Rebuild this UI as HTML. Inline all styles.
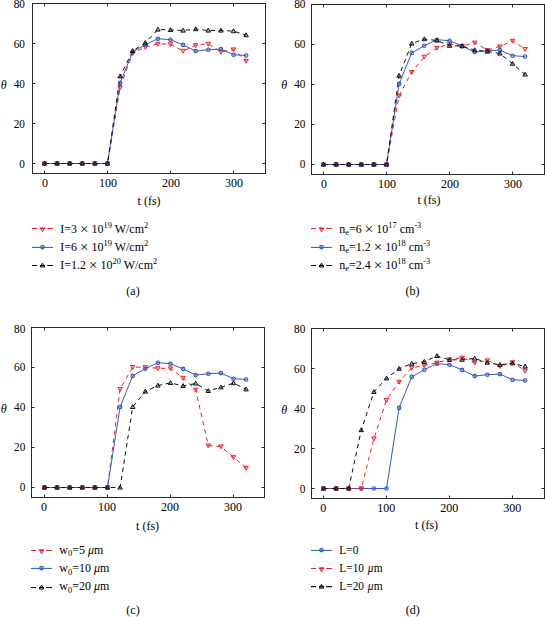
<!DOCTYPE html>
<html><head><meta charset="utf-8"><title>Figure</title>
<style>
html,body{margin:0;padding:0;background:#fff;}
svg{display:block;font-family:"Liberation Serif",serif;font-size:12px;fill:#000;}
</style></head>
<body>
<svg width="545" height="617" viewBox="0 0 545 617">
<rect width="545" height="617" fill="#fff"/>
<g>
<polyline points="44.50,163.50 57.10,163.50 69.70,163.50 82.30,163.50 94.90,163.50 107.50,163.50 120.10,87.50 132.70,53.10 145.30,47.10 157.90,43.90 170.50,44.30 183.10,50.90 195.70,45.30 208.30,43.90 220.90,51.90 233.50,49.50 246.10,60.90" fill="none" stroke="#ed1c24" stroke-width="1" stroke-dasharray="4.4 3.9"/>
<polyline points="44.50,163.50 57.10,163.50 69.70,163.50 82.30,163.50 94.90,163.50 107.50,163.50 120.10,82.90 132.70,51.90 145.30,44.70 157.90,38.70 170.50,39.70 183.10,44.90 195.70,51.10 208.30,49.70 220.90,49.10 233.50,54.70 246.10,55.50" fill="none" stroke="#355bbf" stroke-width="1"/>
<polyline points="44.50,163.50 57.10,163.50 69.70,163.50 82.30,163.50 94.90,163.50 107.50,163.50 120.10,76.30 132.70,50.90 145.30,42.70 157.90,29.50 170.50,29.90 183.10,30.50 195.70,29.10 208.30,30.50 220.90,30.50 233.50,31.10 246.10,35.10" fill="none" stroke="#0c0c0c" stroke-width="1" stroke-dasharray="4.4 3.9"/>
<path d="M42.25 161.90L46.75 161.90L44.50 165.80Z" fill="#ed1c24" fill-opacity="0.3" stroke="#ed1c24" stroke-width="0.95" stroke-linejoin="round"/>
<path d="M54.85 161.90L59.35 161.90L57.10 165.80Z" fill="#ed1c24" fill-opacity="0.3" stroke="#ed1c24" stroke-width="0.95" stroke-linejoin="round"/>
<path d="M67.45 161.90L71.95 161.90L69.70 165.80Z" fill="#ed1c24" fill-opacity="0.3" stroke="#ed1c24" stroke-width="0.95" stroke-linejoin="round"/>
<path d="M80.05 161.90L84.55 161.90L82.30 165.80Z" fill="#ed1c24" fill-opacity="0.3" stroke="#ed1c24" stroke-width="0.95" stroke-linejoin="round"/>
<path d="M92.65 161.90L97.15 161.90L94.90 165.80Z" fill="#ed1c24" fill-opacity="0.3" stroke="#ed1c24" stroke-width="0.95" stroke-linejoin="round"/>
<path d="M105.25 161.90L109.75 161.90L107.50 165.80Z" fill="#ed1c24" fill-opacity="0.3" stroke="#ed1c24" stroke-width="0.95" stroke-linejoin="round"/>
<path d="M117.85 85.90L122.35 85.90L120.10 89.80Z" fill="#ed1c24" fill-opacity="0.3" stroke="#ed1c24" stroke-width="0.95" stroke-linejoin="round"/>
<path d="M130.45 51.50L134.95 51.50L132.70 55.40Z" fill="#ed1c24" fill-opacity="0.3" stroke="#ed1c24" stroke-width="0.95" stroke-linejoin="round"/>
<path d="M143.05 45.50L147.55 45.50L145.30 49.40Z" fill="#ed1c24" fill-opacity="0.3" stroke="#ed1c24" stroke-width="0.95" stroke-linejoin="round"/>
<path d="M155.65 42.30L160.15 42.30L157.90 46.20Z" fill="#ed1c24" fill-opacity="0.3" stroke="#ed1c24" stroke-width="0.95" stroke-linejoin="round"/>
<path d="M168.25 42.70L172.75 42.70L170.50 46.60Z" fill="#ed1c24" fill-opacity="0.3" stroke="#ed1c24" stroke-width="0.95" stroke-linejoin="round"/>
<path d="M180.85 49.30L185.35 49.30L183.10 53.20Z" fill="#ed1c24" fill-opacity="0.3" stroke="#ed1c24" stroke-width="0.95" stroke-linejoin="round"/>
<path d="M193.45 43.70L197.95 43.70L195.70 47.60Z" fill="#ed1c24" fill-opacity="0.3" stroke="#ed1c24" stroke-width="0.95" stroke-linejoin="round"/>
<path d="M206.05 42.30L210.55 42.30L208.30 46.20Z" fill="#ed1c24" fill-opacity="0.3" stroke="#ed1c24" stroke-width="0.95" stroke-linejoin="round"/>
<path d="M218.65 50.30L223.15 50.30L220.90 54.20Z" fill="#ed1c24" fill-opacity="0.3" stroke="#ed1c24" stroke-width="0.95" stroke-linejoin="round"/>
<path d="M231.25 47.90L235.75 47.90L233.50 51.80Z" fill="#ed1c24" fill-opacity="0.3" stroke="#ed1c24" stroke-width="0.95" stroke-linejoin="round"/>
<path d="M243.85 59.30L248.35 59.30L246.10 63.20Z" fill="#ed1c24" fill-opacity="0.3" stroke="#ed1c24" stroke-width="0.95" stroke-linejoin="round"/>
<circle cx="44.50" cy="163.50" r="1.75" fill="#355bbf" fill-opacity="0.25" stroke="#355bbf" stroke-width="1.1"/>
<circle cx="57.10" cy="163.50" r="1.75" fill="#355bbf" fill-opacity="0.25" stroke="#355bbf" stroke-width="1.1"/>
<circle cx="69.70" cy="163.50" r="1.75" fill="#355bbf" fill-opacity="0.25" stroke="#355bbf" stroke-width="1.1"/>
<circle cx="82.30" cy="163.50" r="1.75" fill="#355bbf" fill-opacity="0.25" stroke="#355bbf" stroke-width="1.1"/>
<circle cx="94.90" cy="163.50" r="1.75" fill="#355bbf" fill-opacity="0.25" stroke="#355bbf" stroke-width="1.1"/>
<circle cx="107.50" cy="163.50" r="1.75" fill="#355bbf" fill-opacity="0.25" stroke="#355bbf" stroke-width="1.1"/>
<circle cx="120.10" cy="82.90" r="1.75" fill="#355bbf" fill-opacity="0.25" stroke="#355bbf" stroke-width="1.1"/>
<circle cx="132.70" cy="51.90" r="1.75" fill="#355bbf" fill-opacity="0.25" stroke="#355bbf" stroke-width="1.1"/>
<circle cx="145.30" cy="44.70" r="1.75" fill="#355bbf" fill-opacity="0.25" stroke="#355bbf" stroke-width="1.1"/>
<circle cx="157.90" cy="38.70" r="1.75" fill="#355bbf" fill-opacity="0.25" stroke="#355bbf" stroke-width="1.1"/>
<circle cx="170.50" cy="39.70" r="1.75" fill="#355bbf" fill-opacity="0.25" stroke="#355bbf" stroke-width="1.1"/>
<circle cx="183.10" cy="44.90" r="1.75" fill="#355bbf" fill-opacity="0.25" stroke="#355bbf" stroke-width="1.1"/>
<circle cx="195.70" cy="51.10" r="1.75" fill="#355bbf" fill-opacity="0.25" stroke="#355bbf" stroke-width="1.1"/>
<circle cx="208.30" cy="49.70" r="1.75" fill="#355bbf" fill-opacity="0.25" stroke="#355bbf" stroke-width="1.1"/>
<circle cx="220.90" cy="49.10" r="1.75" fill="#355bbf" fill-opacity="0.25" stroke="#355bbf" stroke-width="1.1"/>
<circle cx="233.50" cy="54.70" r="1.75" fill="#355bbf" fill-opacity="0.25" stroke="#355bbf" stroke-width="1.1"/>
<circle cx="246.10" cy="55.50" r="1.75" fill="#355bbf" fill-opacity="0.25" stroke="#355bbf" stroke-width="1.1"/>
<path d="M42.25 165.10L46.75 165.10L44.50 161.20Z" fill="#0c0c0c" fill-opacity="0.3" stroke="#0c0c0c" stroke-width="0.95" stroke-linejoin="round"/>
<path d="M54.85 165.10L59.35 165.10L57.10 161.20Z" fill="#0c0c0c" fill-opacity="0.3" stroke="#0c0c0c" stroke-width="0.95" stroke-linejoin="round"/>
<path d="M67.45 165.10L71.95 165.10L69.70 161.20Z" fill="#0c0c0c" fill-opacity="0.3" stroke="#0c0c0c" stroke-width="0.95" stroke-linejoin="round"/>
<path d="M80.05 165.10L84.55 165.10L82.30 161.20Z" fill="#0c0c0c" fill-opacity="0.3" stroke="#0c0c0c" stroke-width="0.95" stroke-linejoin="round"/>
<path d="M92.65 165.10L97.15 165.10L94.90 161.20Z" fill="#0c0c0c" fill-opacity="0.3" stroke="#0c0c0c" stroke-width="0.95" stroke-linejoin="round"/>
<path d="M105.25 165.10L109.75 165.10L107.50 161.20Z" fill="#0c0c0c" fill-opacity="0.3" stroke="#0c0c0c" stroke-width="0.95" stroke-linejoin="round"/>
<path d="M117.85 77.90L122.35 77.90L120.10 74.00Z" fill="#0c0c0c" fill-opacity="0.3" stroke="#0c0c0c" stroke-width="0.95" stroke-linejoin="round"/>
<path d="M130.45 52.50L134.95 52.50L132.70 48.60Z" fill="#0c0c0c" fill-opacity="0.3" stroke="#0c0c0c" stroke-width="0.95" stroke-linejoin="round"/>
<path d="M143.05 44.30L147.55 44.30L145.30 40.40Z" fill="#0c0c0c" fill-opacity="0.3" stroke="#0c0c0c" stroke-width="0.95" stroke-linejoin="round"/>
<path d="M155.65 31.10L160.15 31.10L157.90 27.20Z" fill="#0c0c0c" fill-opacity="0.3" stroke="#0c0c0c" stroke-width="0.95" stroke-linejoin="round"/>
<path d="M168.25 31.50L172.75 31.50L170.50 27.60Z" fill="#0c0c0c" fill-opacity="0.3" stroke="#0c0c0c" stroke-width="0.95" stroke-linejoin="round"/>
<path d="M180.85 32.10L185.35 32.10L183.10 28.20Z" fill="#0c0c0c" fill-opacity="0.3" stroke="#0c0c0c" stroke-width="0.95" stroke-linejoin="round"/>
<path d="M193.45 30.70L197.95 30.70L195.70 26.80Z" fill="#0c0c0c" fill-opacity="0.3" stroke="#0c0c0c" stroke-width="0.95" stroke-linejoin="round"/>
<path d="M206.05 32.10L210.55 32.10L208.30 28.20Z" fill="#0c0c0c" fill-opacity="0.3" stroke="#0c0c0c" stroke-width="0.95" stroke-linejoin="round"/>
<path d="M218.65 32.10L223.15 32.10L220.90 28.20Z" fill="#0c0c0c" fill-opacity="0.3" stroke="#0c0c0c" stroke-width="0.95" stroke-linejoin="round"/>
<path d="M231.25 32.70L235.75 32.70L233.50 28.80Z" fill="#0c0c0c" fill-opacity="0.3" stroke="#0c0c0c" stroke-width="0.95" stroke-linejoin="round"/>
<path d="M243.85 36.70L248.35 36.70L246.10 32.80Z" fill="#0c0c0c" fill-opacity="0.3" stroke="#0c0c0c" stroke-width="0.95" stroke-linejoin="round"/>
<rect x="32.5" y="3.5" width="233" height="170" fill="none" stroke="#282828" stroke-width="1"/>
<path d="M44.5 173.5v-3.0M44.5 3.5v3.0M107.5 173.5v-3.0M107.5 3.5v3.0M170.5 173.5v-3.0M170.5 3.5v3.0M233.5 173.5v-3.0M233.5 3.5v3.0M32.5 163.5h3.0M265.5 163.5h-3.0M32.5 123.5h3.0M265.5 123.5h-3.0M32.5 83.5h3.0M265.5 83.5h-3.0M32.5 43.5h3.0M265.5 43.5h-3.0" fill="none" stroke="#282828" stroke-width="1"/>
<text x="45.1" y="187.0" text-anchor="middle">0</text>
<text x="108.1" y="187.0" text-anchor="middle">100</text>
<text x="171.1" y="187.0" text-anchor="middle">200</text>
<text x="234.1" y="187.0" text-anchor="middle">300</text>
<text transform="translate(24.9 167.7) scale(0.94 1)" text-anchor="end">0</text>
<text transform="translate(24.9 127.7) scale(0.94 1)" text-anchor="end">20</text>
<text transform="translate(24.9 87.7) scale(0.94 1)" text-anchor="end">40</text>
<text transform="translate(24.9 47.7) scale(0.94 1)" text-anchor="end">60</text>
<text transform="translate(24.9 7.7) scale(0.94 1)" text-anchor="end">80</text>
<text x="0.8" y="88.9" font-style="italic">θ</text>
<text x="149.1" y="205.3" text-anchor="middle">t (fs)</text>
</g>
<g>
<polyline points="323.50,164.50 336.10,164.50 348.70,164.50 361.30,164.50 373.90,164.50 386.50,164.50 399.10,95.70 411.70,72.10 424.30,56.70 436.90,47.90 449.50,44.30 462.10,46.10 474.70,42.70 487.30,50.10 499.90,46.50 512.50,40.90 525.10,49.10" fill="none" stroke="#ed1c24" stroke-width="1" stroke-dasharray="4.4 3.9"/>
<polyline points="323.50,164.50 336.10,164.50 348.70,164.50 361.30,164.50 373.90,164.50 386.50,164.50 399.10,83.90 411.70,52.90 424.30,45.70 436.90,39.70 449.50,40.70 462.10,45.90 474.70,52.10 487.30,50.70 499.90,50.10 512.50,55.70 525.10,56.50" fill="none" stroke="#355bbf" stroke-width="1"/>
<polyline points="323.50,164.50 336.10,164.50 348.70,164.50 361.30,164.50 373.90,164.50 386.50,164.50 399.10,75.70 411.70,43.50 424.30,39.10 436.90,40.50 449.50,45.70 462.10,46.10 474.70,50.10 487.30,51.50 499.90,53.50 512.50,63.70 525.10,74.50" fill="none" stroke="#0c0c0c" stroke-width="1" stroke-dasharray="4.4 3.9"/>
<path d="M321.25 162.90L325.75 162.90L323.50 166.80Z" fill="#ed1c24" fill-opacity="0.3" stroke="#ed1c24" stroke-width="0.95" stroke-linejoin="round"/>
<path d="M333.85 162.90L338.35 162.90L336.10 166.80Z" fill="#ed1c24" fill-opacity="0.3" stroke="#ed1c24" stroke-width="0.95" stroke-linejoin="round"/>
<path d="M346.45 162.90L350.95 162.90L348.70 166.80Z" fill="#ed1c24" fill-opacity="0.3" stroke="#ed1c24" stroke-width="0.95" stroke-linejoin="round"/>
<path d="M359.05 162.90L363.55 162.90L361.30 166.80Z" fill="#ed1c24" fill-opacity="0.3" stroke="#ed1c24" stroke-width="0.95" stroke-linejoin="round"/>
<path d="M371.65 162.90L376.15 162.90L373.90 166.80Z" fill="#ed1c24" fill-opacity="0.3" stroke="#ed1c24" stroke-width="0.95" stroke-linejoin="round"/>
<path d="M384.25 162.90L388.75 162.90L386.50 166.80Z" fill="#ed1c24" fill-opacity="0.3" stroke="#ed1c24" stroke-width="0.95" stroke-linejoin="round"/>
<path d="M396.85 94.10L401.35 94.10L399.10 98.00Z" fill="#ed1c24" fill-opacity="0.3" stroke="#ed1c24" stroke-width="0.95" stroke-linejoin="round"/>
<path d="M409.45 70.50L413.95 70.50L411.70 74.40Z" fill="#ed1c24" fill-opacity="0.3" stroke="#ed1c24" stroke-width="0.95" stroke-linejoin="round"/>
<path d="M422.05 55.10L426.55 55.10L424.30 59.00Z" fill="#ed1c24" fill-opacity="0.3" stroke="#ed1c24" stroke-width="0.95" stroke-linejoin="round"/>
<path d="M434.65 46.30L439.15 46.30L436.90 50.20Z" fill="#ed1c24" fill-opacity="0.3" stroke="#ed1c24" stroke-width="0.95" stroke-linejoin="round"/>
<path d="M447.25 42.70L451.75 42.70L449.50 46.60Z" fill="#ed1c24" fill-opacity="0.3" stroke="#ed1c24" stroke-width="0.95" stroke-linejoin="round"/>
<path d="M459.85 44.50L464.35 44.50L462.10 48.40Z" fill="#ed1c24" fill-opacity="0.3" stroke="#ed1c24" stroke-width="0.95" stroke-linejoin="round"/>
<path d="M472.45 41.10L476.95 41.10L474.70 45.00Z" fill="#ed1c24" fill-opacity="0.3" stroke="#ed1c24" stroke-width="0.95" stroke-linejoin="round"/>
<path d="M485.05 48.50L489.55 48.50L487.30 52.40Z" fill="#ed1c24" fill-opacity="0.3" stroke="#ed1c24" stroke-width="0.95" stroke-linejoin="round"/>
<path d="M497.65 44.90L502.15 44.90L499.90 48.80Z" fill="#ed1c24" fill-opacity="0.3" stroke="#ed1c24" stroke-width="0.95" stroke-linejoin="round"/>
<path d="M510.25 39.30L514.75 39.30L512.50 43.20Z" fill="#ed1c24" fill-opacity="0.3" stroke="#ed1c24" stroke-width="0.95" stroke-linejoin="round"/>
<path d="M522.85 47.50L527.35 47.50L525.10 51.40Z" fill="#ed1c24" fill-opacity="0.3" stroke="#ed1c24" stroke-width="0.95" stroke-linejoin="round"/>
<circle cx="323.50" cy="164.50" r="1.75" fill="#355bbf" fill-opacity="0.25" stroke="#355bbf" stroke-width="1.1"/>
<circle cx="336.10" cy="164.50" r="1.75" fill="#355bbf" fill-opacity="0.25" stroke="#355bbf" stroke-width="1.1"/>
<circle cx="348.70" cy="164.50" r="1.75" fill="#355bbf" fill-opacity="0.25" stroke="#355bbf" stroke-width="1.1"/>
<circle cx="361.30" cy="164.50" r="1.75" fill="#355bbf" fill-opacity="0.25" stroke="#355bbf" stroke-width="1.1"/>
<circle cx="373.90" cy="164.50" r="1.75" fill="#355bbf" fill-opacity="0.25" stroke="#355bbf" stroke-width="1.1"/>
<circle cx="386.50" cy="164.50" r="1.75" fill="#355bbf" fill-opacity="0.25" stroke="#355bbf" stroke-width="1.1"/>
<circle cx="399.10" cy="83.90" r="1.75" fill="#355bbf" fill-opacity="0.25" stroke="#355bbf" stroke-width="1.1"/>
<circle cx="411.70" cy="52.90" r="1.75" fill="#355bbf" fill-opacity="0.25" stroke="#355bbf" stroke-width="1.1"/>
<circle cx="424.30" cy="45.70" r="1.75" fill="#355bbf" fill-opacity="0.25" stroke="#355bbf" stroke-width="1.1"/>
<circle cx="436.90" cy="39.70" r="1.75" fill="#355bbf" fill-opacity="0.25" stroke="#355bbf" stroke-width="1.1"/>
<circle cx="449.50" cy="40.70" r="1.75" fill="#355bbf" fill-opacity="0.25" stroke="#355bbf" stroke-width="1.1"/>
<circle cx="462.10" cy="45.90" r="1.75" fill="#355bbf" fill-opacity="0.25" stroke="#355bbf" stroke-width="1.1"/>
<circle cx="474.70" cy="52.10" r="1.75" fill="#355bbf" fill-opacity="0.25" stroke="#355bbf" stroke-width="1.1"/>
<circle cx="487.30" cy="50.70" r="1.75" fill="#355bbf" fill-opacity="0.25" stroke="#355bbf" stroke-width="1.1"/>
<circle cx="499.90" cy="50.10" r="1.75" fill="#355bbf" fill-opacity="0.25" stroke="#355bbf" stroke-width="1.1"/>
<circle cx="512.50" cy="55.70" r="1.75" fill="#355bbf" fill-opacity="0.25" stroke="#355bbf" stroke-width="1.1"/>
<circle cx="525.10" cy="56.50" r="1.75" fill="#355bbf" fill-opacity="0.25" stroke="#355bbf" stroke-width="1.1"/>
<path d="M321.25 166.10L325.75 166.10L323.50 162.20Z" fill="#0c0c0c" fill-opacity="0.3" stroke="#0c0c0c" stroke-width="0.95" stroke-linejoin="round"/>
<path d="M333.85 166.10L338.35 166.10L336.10 162.20Z" fill="#0c0c0c" fill-opacity="0.3" stroke="#0c0c0c" stroke-width="0.95" stroke-linejoin="round"/>
<path d="M346.45 166.10L350.95 166.10L348.70 162.20Z" fill="#0c0c0c" fill-opacity="0.3" stroke="#0c0c0c" stroke-width="0.95" stroke-linejoin="round"/>
<path d="M359.05 166.10L363.55 166.10L361.30 162.20Z" fill="#0c0c0c" fill-opacity="0.3" stroke="#0c0c0c" stroke-width="0.95" stroke-linejoin="round"/>
<path d="M371.65 166.10L376.15 166.10L373.90 162.20Z" fill="#0c0c0c" fill-opacity="0.3" stroke="#0c0c0c" stroke-width="0.95" stroke-linejoin="round"/>
<path d="M384.25 166.10L388.75 166.10L386.50 162.20Z" fill="#0c0c0c" fill-opacity="0.3" stroke="#0c0c0c" stroke-width="0.95" stroke-linejoin="round"/>
<path d="M396.85 77.30L401.35 77.30L399.10 73.40Z" fill="#0c0c0c" fill-opacity="0.3" stroke="#0c0c0c" stroke-width="0.95" stroke-linejoin="round"/>
<path d="M409.45 45.10L413.95 45.10L411.70 41.20Z" fill="#0c0c0c" fill-opacity="0.3" stroke="#0c0c0c" stroke-width="0.95" stroke-linejoin="round"/>
<path d="M422.05 40.70L426.55 40.70L424.30 36.80Z" fill="#0c0c0c" fill-opacity="0.3" stroke="#0c0c0c" stroke-width="0.95" stroke-linejoin="round"/>
<path d="M434.65 42.10L439.15 42.10L436.90 38.20Z" fill="#0c0c0c" fill-opacity="0.3" stroke="#0c0c0c" stroke-width="0.95" stroke-linejoin="round"/>
<path d="M447.25 47.30L451.75 47.30L449.50 43.40Z" fill="#0c0c0c" fill-opacity="0.3" stroke="#0c0c0c" stroke-width="0.95" stroke-linejoin="round"/>
<path d="M459.85 47.70L464.35 47.70L462.10 43.80Z" fill="#0c0c0c" fill-opacity="0.3" stroke="#0c0c0c" stroke-width="0.95" stroke-linejoin="round"/>
<path d="M472.45 51.70L476.95 51.70L474.70 47.80Z" fill="#0c0c0c" fill-opacity="0.3" stroke="#0c0c0c" stroke-width="0.95" stroke-linejoin="round"/>
<path d="M485.05 53.10L489.55 53.10L487.30 49.20Z" fill="#0c0c0c" fill-opacity="0.3" stroke="#0c0c0c" stroke-width="0.95" stroke-linejoin="round"/>
<path d="M497.65 55.10L502.15 55.10L499.90 51.20Z" fill="#0c0c0c" fill-opacity="0.3" stroke="#0c0c0c" stroke-width="0.95" stroke-linejoin="round"/>
<path d="M510.25 65.30L514.75 65.30L512.50 61.40Z" fill="#0c0c0c" fill-opacity="0.3" stroke="#0c0c0c" stroke-width="0.95" stroke-linejoin="round"/>
<path d="M522.85 76.10L527.35 76.10L525.10 72.20Z" fill="#0c0c0c" fill-opacity="0.3" stroke="#0c0c0c" stroke-width="0.95" stroke-linejoin="round"/>
<rect x="311.5" y="4.5" width="233" height="170" fill="none" stroke="#282828" stroke-width="1"/>
<path d="M323.5 174.5v-3.0M323.5 4.5v3.0M386.5 174.5v-3.0M386.5 4.5v3.0M449.5 174.5v-3.0M449.5 4.5v3.0M512.5 174.5v-3.0M512.5 4.5v3.0M311.5 164.5h3.0M544.5 164.5h-3.0M311.5 124.5h3.0M544.5 124.5h-3.0M311.5 84.5h3.0M544.5 84.5h-3.0M311.5 44.5h3.0M544.5 44.5h-3.0" fill="none" stroke="#282828" stroke-width="1"/>
<text x="324.1" y="188.0" text-anchor="middle">0</text>
<text x="387.1" y="188.0" text-anchor="middle">100</text>
<text x="450.1" y="188.0" text-anchor="middle">200</text>
<text x="513.1" y="188.0" text-anchor="middle">300</text>
<text transform="translate(305.4 167.9) scale(0.94 1)" text-anchor="end">0</text>
<text transform="translate(305.4 127.9) scale(0.94 1)" text-anchor="end">20</text>
<text transform="translate(305.4 87.9) scale(0.94 1)" text-anchor="end">40</text>
<text transform="translate(305.4 47.9) scale(0.94 1)" text-anchor="end">60</text>
<text transform="translate(305.4 7.9) scale(0.94 1)" text-anchor="end">80</text>
<text x="281.2" y="89.1" font-style="italic">θ</text>
<text x="429.0" y="204.3" text-anchor="middle">t (fs)</text>
</g>
<g>
<polyline points="44.50,487.50 57.10,487.50 69.70,487.50 82.30,487.50 94.90,487.50 107.50,487.50 120.10,389.10 132.70,367.10 145.30,367.30 157.90,368.30 170.50,368.50 183.10,377.90 195.70,389.70 208.30,445.50 220.90,446.50 233.50,457.30 246.10,467.90" fill="none" stroke="#ed1c24" stroke-width="1" stroke-dasharray="4.4 3.9"/>
<polyline points="44.50,487.50 57.10,487.50 69.70,487.50 82.30,487.50 94.90,487.50 107.50,487.50 120.10,406.90 132.70,375.90 145.30,368.70 157.90,362.70 170.50,363.70 183.10,368.90 195.70,375.10 208.30,373.70 220.90,373.10 233.50,378.70 246.10,379.50" fill="none" stroke="#355bbf" stroke-width="1"/>
<polyline points="44.50,487.50 57.10,487.50 69.70,487.50 82.30,487.50 94.90,487.50 107.50,487.50 120.10,487.50 132.70,406.90 145.30,391.50 157.90,385.50 170.50,382.90 183.10,385.90 195.70,383.50 208.30,390.90 220.90,387.30 233.50,383.10 246.10,389.30" fill="none" stroke="#0c0c0c" stroke-width="1" stroke-dasharray="4.4 3.9"/>
<path d="M42.25 485.90L46.75 485.90L44.50 489.80Z" fill="#ed1c24" fill-opacity="0.3" stroke="#ed1c24" stroke-width="0.95" stroke-linejoin="round"/>
<path d="M54.85 485.90L59.35 485.90L57.10 489.80Z" fill="#ed1c24" fill-opacity="0.3" stroke="#ed1c24" stroke-width="0.95" stroke-linejoin="round"/>
<path d="M67.45 485.90L71.95 485.90L69.70 489.80Z" fill="#ed1c24" fill-opacity="0.3" stroke="#ed1c24" stroke-width="0.95" stroke-linejoin="round"/>
<path d="M80.05 485.90L84.55 485.90L82.30 489.80Z" fill="#ed1c24" fill-opacity="0.3" stroke="#ed1c24" stroke-width="0.95" stroke-linejoin="round"/>
<path d="M92.65 485.90L97.15 485.90L94.90 489.80Z" fill="#ed1c24" fill-opacity="0.3" stroke="#ed1c24" stroke-width="0.95" stroke-linejoin="round"/>
<path d="M105.25 485.90L109.75 485.90L107.50 489.80Z" fill="#ed1c24" fill-opacity="0.3" stroke="#ed1c24" stroke-width="0.95" stroke-linejoin="round"/>
<path d="M117.85 387.50L122.35 387.50L120.10 391.40Z" fill="#ed1c24" fill-opacity="0.3" stroke="#ed1c24" stroke-width="0.95" stroke-linejoin="round"/>
<path d="M130.45 365.50L134.95 365.50L132.70 369.40Z" fill="#ed1c24" fill-opacity="0.3" stroke="#ed1c24" stroke-width="0.95" stroke-linejoin="round"/>
<path d="M143.05 365.70L147.55 365.70L145.30 369.60Z" fill="#ed1c24" fill-opacity="0.3" stroke="#ed1c24" stroke-width="0.95" stroke-linejoin="round"/>
<path d="M155.65 366.70L160.15 366.70L157.90 370.60Z" fill="#ed1c24" fill-opacity="0.3" stroke="#ed1c24" stroke-width="0.95" stroke-linejoin="round"/>
<path d="M168.25 366.90L172.75 366.90L170.50 370.80Z" fill="#ed1c24" fill-opacity="0.3" stroke="#ed1c24" stroke-width="0.95" stroke-linejoin="round"/>
<path d="M180.85 376.30L185.35 376.30L183.10 380.20Z" fill="#ed1c24" fill-opacity="0.3" stroke="#ed1c24" stroke-width="0.95" stroke-linejoin="round"/>
<path d="M193.45 388.10L197.95 388.10L195.70 392.00Z" fill="#ed1c24" fill-opacity="0.3" stroke="#ed1c24" stroke-width="0.95" stroke-linejoin="round"/>
<path d="M206.05 443.90L210.55 443.90L208.30 447.80Z" fill="#ed1c24" fill-opacity="0.3" stroke="#ed1c24" stroke-width="0.95" stroke-linejoin="round"/>
<path d="M218.65 444.90L223.15 444.90L220.90 448.80Z" fill="#ed1c24" fill-opacity="0.3" stroke="#ed1c24" stroke-width="0.95" stroke-linejoin="round"/>
<path d="M231.25 455.70L235.75 455.70L233.50 459.60Z" fill="#ed1c24" fill-opacity="0.3" stroke="#ed1c24" stroke-width="0.95" stroke-linejoin="round"/>
<path d="M243.85 466.30L248.35 466.30L246.10 470.20Z" fill="#ed1c24" fill-opacity="0.3" stroke="#ed1c24" stroke-width="0.95" stroke-linejoin="round"/>
<circle cx="44.50" cy="487.50" r="1.75" fill="#355bbf" fill-opacity="0.25" stroke="#355bbf" stroke-width="1.1"/>
<circle cx="57.10" cy="487.50" r="1.75" fill="#355bbf" fill-opacity="0.25" stroke="#355bbf" stroke-width="1.1"/>
<circle cx="69.70" cy="487.50" r="1.75" fill="#355bbf" fill-opacity="0.25" stroke="#355bbf" stroke-width="1.1"/>
<circle cx="82.30" cy="487.50" r="1.75" fill="#355bbf" fill-opacity="0.25" stroke="#355bbf" stroke-width="1.1"/>
<circle cx="94.90" cy="487.50" r="1.75" fill="#355bbf" fill-opacity="0.25" stroke="#355bbf" stroke-width="1.1"/>
<circle cx="107.50" cy="487.50" r="1.75" fill="#355bbf" fill-opacity="0.25" stroke="#355bbf" stroke-width="1.1"/>
<circle cx="120.10" cy="406.90" r="1.75" fill="#355bbf" fill-opacity="0.25" stroke="#355bbf" stroke-width="1.1"/>
<circle cx="132.70" cy="375.90" r="1.75" fill="#355bbf" fill-opacity="0.25" stroke="#355bbf" stroke-width="1.1"/>
<circle cx="145.30" cy="368.70" r="1.75" fill="#355bbf" fill-opacity="0.25" stroke="#355bbf" stroke-width="1.1"/>
<circle cx="157.90" cy="362.70" r="1.75" fill="#355bbf" fill-opacity="0.25" stroke="#355bbf" stroke-width="1.1"/>
<circle cx="170.50" cy="363.70" r="1.75" fill="#355bbf" fill-opacity="0.25" stroke="#355bbf" stroke-width="1.1"/>
<circle cx="183.10" cy="368.90" r="1.75" fill="#355bbf" fill-opacity="0.25" stroke="#355bbf" stroke-width="1.1"/>
<circle cx="195.70" cy="375.10" r="1.75" fill="#355bbf" fill-opacity="0.25" stroke="#355bbf" stroke-width="1.1"/>
<circle cx="208.30" cy="373.70" r="1.75" fill="#355bbf" fill-opacity="0.25" stroke="#355bbf" stroke-width="1.1"/>
<circle cx="220.90" cy="373.10" r="1.75" fill="#355bbf" fill-opacity="0.25" stroke="#355bbf" stroke-width="1.1"/>
<circle cx="233.50" cy="378.70" r="1.75" fill="#355bbf" fill-opacity="0.25" stroke="#355bbf" stroke-width="1.1"/>
<circle cx="246.10" cy="379.50" r="1.75" fill="#355bbf" fill-opacity="0.25" stroke="#355bbf" stroke-width="1.1"/>
<path d="M42.25 489.10L46.75 489.10L44.50 485.20Z" fill="#0c0c0c" fill-opacity="0.3" stroke="#0c0c0c" stroke-width="0.95" stroke-linejoin="round"/>
<path d="M54.85 489.10L59.35 489.10L57.10 485.20Z" fill="#0c0c0c" fill-opacity="0.3" stroke="#0c0c0c" stroke-width="0.95" stroke-linejoin="round"/>
<path d="M67.45 489.10L71.95 489.10L69.70 485.20Z" fill="#0c0c0c" fill-opacity="0.3" stroke="#0c0c0c" stroke-width="0.95" stroke-linejoin="round"/>
<path d="M80.05 489.10L84.55 489.10L82.30 485.20Z" fill="#0c0c0c" fill-opacity="0.3" stroke="#0c0c0c" stroke-width="0.95" stroke-linejoin="round"/>
<path d="M92.65 489.10L97.15 489.10L94.90 485.20Z" fill="#0c0c0c" fill-opacity="0.3" stroke="#0c0c0c" stroke-width="0.95" stroke-linejoin="round"/>
<path d="M105.25 489.10L109.75 489.10L107.50 485.20Z" fill="#0c0c0c" fill-opacity="0.3" stroke="#0c0c0c" stroke-width="0.95" stroke-linejoin="round"/>
<path d="M117.85 489.10L122.35 489.10L120.10 485.20Z" fill="#0c0c0c" fill-opacity="0.3" stroke="#0c0c0c" stroke-width="0.95" stroke-linejoin="round"/>
<path d="M130.45 408.50L134.95 408.50L132.70 404.60Z" fill="#0c0c0c" fill-opacity="0.3" stroke="#0c0c0c" stroke-width="0.95" stroke-linejoin="round"/>
<path d="M143.05 393.10L147.55 393.10L145.30 389.20Z" fill="#0c0c0c" fill-opacity="0.3" stroke="#0c0c0c" stroke-width="0.95" stroke-linejoin="round"/>
<path d="M155.65 387.10L160.15 387.10L157.90 383.20Z" fill="#0c0c0c" fill-opacity="0.3" stroke="#0c0c0c" stroke-width="0.95" stroke-linejoin="round"/>
<path d="M168.25 384.50L172.75 384.50L170.50 380.60Z" fill="#0c0c0c" fill-opacity="0.3" stroke="#0c0c0c" stroke-width="0.95" stroke-linejoin="round"/>
<path d="M180.85 387.50L185.35 387.50L183.10 383.60Z" fill="#0c0c0c" fill-opacity="0.3" stroke="#0c0c0c" stroke-width="0.95" stroke-linejoin="round"/>
<path d="M193.45 385.10L197.95 385.10L195.70 381.20Z" fill="#0c0c0c" fill-opacity="0.3" stroke="#0c0c0c" stroke-width="0.95" stroke-linejoin="round"/>
<path d="M206.05 392.50L210.55 392.50L208.30 388.60Z" fill="#0c0c0c" fill-opacity="0.3" stroke="#0c0c0c" stroke-width="0.95" stroke-linejoin="round"/>
<path d="M218.65 388.90L223.15 388.90L220.90 385.00Z" fill="#0c0c0c" fill-opacity="0.3" stroke="#0c0c0c" stroke-width="0.95" stroke-linejoin="round"/>
<path d="M231.25 384.70L235.75 384.70L233.50 380.80Z" fill="#0c0c0c" fill-opacity="0.3" stroke="#0c0c0c" stroke-width="0.95" stroke-linejoin="round"/>
<path d="M243.85 390.90L248.35 390.90L246.10 387.00Z" fill="#0c0c0c" fill-opacity="0.3" stroke="#0c0c0c" stroke-width="0.95" stroke-linejoin="round"/>
<rect x="31.5" y="327.5" width="233" height="170" fill="none" stroke="#282828" stroke-width="1"/>
<path d="M44.5 497.5v-3.0M44.5 327.5v3.0M107.5 497.5v-3.0M107.5 327.5v3.0M170.5 497.5v-3.0M170.5 327.5v3.0M233.5 497.5v-3.0M233.5 327.5v3.0M31.5 487.5h3.0M264.5 487.5h-3.0M31.5 447.5h3.0M264.5 447.5h-3.0M31.5 407.5h3.0M264.5 407.5h-3.0M31.5 367.5h3.0M264.5 367.5h-3.0" fill="none" stroke="#282828" stroke-width="1"/>
<text x="43.9" y="511.0" text-anchor="middle">0</text>
<text x="106.9" y="511.0" text-anchor="middle">100</text>
<text x="169.9" y="511.0" text-anchor="middle">200</text>
<text x="232.9" y="511.0" text-anchor="middle">300</text>
<text transform="translate(25.3 490.6) scale(0.94 1)" text-anchor="end">0</text>
<text transform="translate(25.3 450.6) scale(0.94 1)" text-anchor="end">20</text>
<text transform="translate(25.3 410.6) scale(0.94 1)" text-anchor="end">40</text>
<text transform="translate(25.3 370.6) scale(0.94 1)" text-anchor="end">60</text>
<text transform="translate(25.3 332.5) scale(0.94 1)" text-anchor="end">80</text>
<text x="0.8" y="413.1" font-style="italic">θ</text>
<text x="147.6" y="529.5" text-anchor="middle">t (fs)</text>
</g>
<g>
<polyline points="323.50,488.50 336.10,488.50 348.70,488.50 361.30,488.50 373.90,488.50 386.50,488.50 399.10,407.90 411.70,376.90 424.30,369.70 436.90,363.70 449.50,364.70 462.10,369.90 474.70,376.10 487.30,374.70 499.90,374.10 512.50,379.70 525.10,380.50" fill="none" stroke="#355bbf" stroke-width="1"/>
<polyline points="323.50,488.50 336.10,488.50 348.70,488.50 361.30,488.50 373.90,438.50 386.50,400.10 399.10,381.90 411.70,367.90 424.30,365.30 436.90,362.70 449.50,359.50 462.10,357.70 474.70,362.70 487.30,360.50 499.90,366.10 512.50,362.30 525.10,370.90" fill="none" stroke="#ed1c24" stroke-width="1" stroke-dasharray="4.4 3.9"/>
<polyline points="323.50,488.50 336.10,488.50 348.70,488.50 361.30,430.10 373.90,391.90 386.50,378.30 399.10,368.70 411.70,363.70 424.30,361.70 436.90,355.90 449.50,359.90 462.10,359.70 474.70,358.50 487.30,362.70 499.90,364.70 512.50,363.30 525.10,366.50" fill="none" stroke="#0c0c0c" stroke-width="1" stroke-dasharray="4.4 3.9"/>
<circle cx="323.50" cy="488.50" r="1.75" fill="#355bbf" fill-opacity="0.25" stroke="#355bbf" stroke-width="1.1"/>
<circle cx="336.10" cy="488.50" r="1.75" fill="#355bbf" fill-opacity="0.25" stroke="#355bbf" stroke-width="1.1"/>
<circle cx="348.70" cy="488.50" r="1.75" fill="#355bbf" fill-opacity="0.25" stroke="#355bbf" stroke-width="1.1"/>
<circle cx="361.30" cy="488.50" r="1.75" fill="#355bbf" fill-opacity="0.25" stroke="#355bbf" stroke-width="1.1"/>
<circle cx="373.90" cy="488.50" r="1.75" fill="#355bbf" fill-opacity="0.25" stroke="#355bbf" stroke-width="1.1"/>
<circle cx="386.50" cy="488.50" r="1.75" fill="#355bbf" fill-opacity="0.25" stroke="#355bbf" stroke-width="1.1"/>
<circle cx="399.10" cy="407.90" r="1.75" fill="#355bbf" fill-opacity="0.25" stroke="#355bbf" stroke-width="1.1"/>
<circle cx="411.70" cy="376.90" r="1.75" fill="#355bbf" fill-opacity="0.25" stroke="#355bbf" stroke-width="1.1"/>
<circle cx="424.30" cy="369.70" r="1.75" fill="#355bbf" fill-opacity="0.25" stroke="#355bbf" stroke-width="1.1"/>
<circle cx="436.90" cy="363.70" r="1.75" fill="#355bbf" fill-opacity="0.25" stroke="#355bbf" stroke-width="1.1"/>
<circle cx="449.50" cy="364.70" r="1.75" fill="#355bbf" fill-opacity="0.25" stroke="#355bbf" stroke-width="1.1"/>
<circle cx="462.10" cy="369.90" r="1.75" fill="#355bbf" fill-opacity="0.25" stroke="#355bbf" stroke-width="1.1"/>
<circle cx="474.70" cy="376.10" r="1.75" fill="#355bbf" fill-opacity="0.25" stroke="#355bbf" stroke-width="1.1"/>
<circle cx="487.30" cy="374.70" r="1.75" fill="#355bbf" fill-opacity="0.25" stroke="#355bbf" stroke-width="1.1"/>
<circle cx="499.90" cy="374.10" r="1.75" fill="#355bbf" fill-opacity="0.25" stroke="#355bbf" stroke-width="1.1"/>
<circle cx="512.50" cy="379.70" r="1.75" fill="#355bbf" fill-opacity="0.25" stroke="#355bbf" stroke-width="1.1"/>
<circle cx="525.10" cy="380.50" r="1.75" fill="#355bbf" fill-opacity="0.25" stroke="#355bbf" stroke-width="1.1"/>
<path d="M321.25 486.90L325.75 486.90L323.50 490.80Z" fill="#ed1c24" fill-opacity="0.3" stroke="#ed1c24" stroke-width="0.95" stroke-linejoin="round"/>
<path d="M333.85 486.90L338.35 486.90L336.10 490.80Z" fill="#ed1c24" fill-opacity="0.3" stroke="#ed1c24" stroke-width="0.95" stroke-linejoin="round"/>
<path d="M346.45 486.90L350.95 486.90L348.70 490.80Z" fill="#ed1c24" fill-opacity="0.3" stroke="#ed1c24" stroke-width="0.95" stroke-linejoin="round"/>
<path d="M359.05 486.90L363.55 486.90L361.30 490.80Z" fill="#ed1c24" fill-opacity="0.3" stroke="#ed1c24" stroke-width="0.95" stroke-linejoin="round"/>
<path d="M371.65 436.90L376.15 436.90L373.90 440.80Z" fill="#ed1c24" fill-opacity="0.3" stroke="#ed1c24" stroke-width="0.95" stroke-linejoin="round"/>
<path d="M384.25 398.50L388.75 398.50L386.50 402.40Z" fill="#ed1c24" fill-opacity="0.3" stroke="#ed1c24" stroke-width="0.95" stroke-linejoin="round"/>
<path d="M396.85 380.30L401.35 380.30L399.10 384.20Z" fill="#ed1c24" fill-opacity="0.3" stroke="#ed1c24" stroke-width="0.95" stroke-linejoin="round"/>
<path d="M409.45 366.30L413.95 366.30L411.70 370.20Z" fill="#ed1c24" fill-opacity="0.3" stroke="#ed1c24" stroke-width="0.95" stroke-linejoin="round"/>
<path d="M422.05 363.70L426.55 363.70L424.30 367.60Z" fill="#ed1c24" fill-opacity="0.3" stroke="#ed1c24" stroke-width="0.95" stroke-linejoin="round"/>
<path d="M434.65 361.10L439.15 361.10L436.90 365.00Z" fill="#ed1c24" fill-opacity="0.3" stroke="#ed1c24" stroke-width="0.95" stroke-linejoin="round"/>
<path d="M447.25 357.90L451.75 357.90L449.50 361.80Z" fill="#ed1c24" fill-opacity="0.3" stroke="#ed1c24" stroke-width="0.95" stroke-linejoin="round"/>
<path d="M459.85 356.10L464.35 356.10L462.10 360.00Z" fill="#ed1c24" fill-opacity="0.3" stroke="#ed1c24" stroke-width="0.95" stroke-linejoin="round"/>
<path d="M472.45 361.10L476.95 361.10L474.70 365.00Z" fill="#ed1c24" fill-opacity="0.3" stroke="#ed1c24" stroke-width="0.95" stroke-linejoin="round"/>
<path d="M485.05 358.90L489.55 358.90L487.30 362.80Z" fill="#ed1c24" fill-opacity="0.3" stroke="#ed1c24" stroke-width="0.95" stroke-linejoin="round"/>
<path d="M497.65 364.50L502.15 364.50L499.90 368.40Z" fill="#ed1c24" fill-opacity="0.3" stroke="#ed1c24" stroke-width="0.95" stroke-linejoin="round"/>
<path d="M510.25 360.70L514.75 360.70L512.50 364.60Z" fill="#ed1c24" fill-opacity="0.3" stroke="#ed1c24" stroke-width="0.95" stroke-linejoin="round"/>
<path d="M522.85 369.30L527.35 369.30L525.10 373.20Z" fill="#ed1c24" fill-opacity="0.3" stroke="#ed1c24" stroke-width="0.95" stroke-linejoin="round"/>
<path d="M321.25 490.10L325.75 490.10L323.50 486.20Z" fill="#0c0c0c" fill-opacity="0.3" stroke="#0c0c0c" stroke-width="0.95" stroke-linejoin="round"/>
<path d="M333.85 490.10L338.35 490.10L336.10 486.20Z" fill="#0c0c0c" fill-opacity="0.3" stroke="#0c0c0c" stroke-width="0.95" stroke-linejoin="round"/>
<path d="M346.45 490.10L350.95 490.10L348.70 486.20Z" fill="#0c0c0c" fill-opacity="0.3" stroke="#0c0c0c" stroke-width="0.95" stroke-linejoin="round"/>
<path d="M359.05 431.70L363.55 431.70L361.30 427.80Z" fill="#0c0c0c" fill-opacity="0.3" stroke="#0c0c0c" stroke-width="0.95" stroke-linejoin="round"/>
<path d="M371.65 393.50L376.15 393.50L373.90 389.60Z" fill="#0c0c0c" fill-opacity="0.3" stroke="#0c0c0c" stroke-width="0.95" stroke-linejoin="round"/>
<path d="M384.25 379.90L388.75 379.90L386.50 376.00Z" fill="#0c0c0c" fill-opacity="0.3" stroke="#0c0c0c" stroke-width="0.95" stroke-linejoin="round"/>
<path d="M396.85 370.30L401.35 370.30L399.10 366.40Z" fill="#0c0c0c" fill-opacity="0.3" stroke="#0c0c0c" stroke-width="0.95" stroke-linejoin="round"/>
<path d="M409.45 365.30L413.95 365.30L411.70 361.40Z" fill="#0c0c0c" fill-opacity="0.3" stroke="#0c0c0c" stroke-width="0.95" stroke-linejoin="round"/>
<path d="M422.05 363.30L426.55 363.30L424.30 359.40Z" fill="#0c0c0c" fill-opacity="0.3" stroke="#0c0c0c" stroke-width="0.95" stroke-linejoin="round"/>
<path d="M434.65 357.50L439.15 357.50L436.90 353.60Z" fill="#0c0c0c" fill-opacity="0.3" stroke="#0c0c0c" stroke-width="0.95" stroke-linejoin="round"/>
<path d="M447.25 361.50L451.75 361.50L449.50 357.60Z" fill="#0c0c0c" fill-opacity="0.3" stroke="#0c0c0c" stroke-width="0.95" stroke-linejoin="round"/>
<path d="M459.85 361.30L464.35 361.30L462.10 357.40Z" fill="#0c0c0c" fill-opacity="0.3" stroke="#0c0c0c" stroke-width="0.95" stroke-linejoin="round"/>
<path d="M472.45 360.10L476.95 360.10L474.70 356.20Z" fill="#0c0c0c" fill-opacity="0.3" stroke="#0c0c0c" stroke-width="0.95" stroke-linejoin="round"/>
<path d="M485.05 364.30L489.55 364.30L487.30 360.40Z" fill="#0c0c0c" fill-opacity="0.3" stroke="#0c0c0c" stroke-width="0.95" stroke-linejoin="round"/>
<path d="M497.65 366.30L502.15 366.30L499.90 362.40Z" fill="#0c0c0c" fill-opacity="0.3" stroke="#0c0c0c" stroke-width="0.95" stroke-linejoin="round"/>
<path d="M510.25 364.90L514.75 364.90L512.50 361.00Z" fill="#0c0c0c" fill-opacity="0.3" stroke="#0c0c0c" stroke-width="0.95" stroke-linejoin="round"/>
<path d="M522.85 368.10L527.35 368.10L525.10 364.20Z" fill="#0c0c0c" fill-opacity="0.3" stroke="#0c0c0c" stroke-width="0.95" stroke-linejoin="round"/>
<rect x="311.5" y="328.5" width="233" height="170" fill="none" stroke="#282828" stroke-width="1"/>
<path d="M323.5 498.5v-3.0M323.5 328.5v3.0M386.5 498.5v-3.0M386.5 328.5v3.0M449.5 498.5v-3.0M449.5 328.5v3.0M512.5 498.5v-3.0M512.5 328.5v3.0M311.5 488.5h3.0M544.5 488.5h-3.0M311.5 448.5h3.0M544.5 448.5h-3.0M311.5 408.5h3.0M544.5 408.5h-3.0M311.5 368.5h3.0M544.5 368.5h-3.0" fill="none" stroke="#282828" stroke-width="1"/>
<text x="323.2" y="512.0" text-anchor="middle">0</text>
<text x="386.2" y="512.0" text-anchor="middle">100</text>
<text x="449.2" y="512.0" text-anchor="middle">200</text>
<text x="512.2" y="512.0" text-anchor="middle">300</text>
<text transform="translate(305.3 493.1) scale(0.94 1)" text-anchor="end">0</text>
<text transform="translate(305.3 453.1) scale(0.94 1)" text-anchor="end">20</text>
<text transform="translate(305.3 413.1) scale(0.94 1)" text-anchor="end">40</text>
<text transform="translate(305.3 373.1) scale(0.94 1)" text-anchor="end">60</text>
<text transform="translate(305.3 333.1) scale(0.94 1)" text-anchor="end">80</text>
<text x="281.2" y="413.6" font-style="italic">θ</text>
<text x="426.6" y="529.0" text-anchor="middle">t (fs)</text>
</g>
<g>
<path d="M32 228.5h5M40 228.5h5M47.2 228.5h5.8" stroke="#ed1c24" stroke-width="1.05" fill="none"/>
<path d="M40.25 227.90L44.75 227.90L42.50 231.80Z" fill="#ed1c24" fill-opacity="0.3" stroke="#ed1c24" stroke-width="0.95" stroke-linejoin="round"/>
<text x="60.3" y="232.5" letter-spacing="0">I=3 <tspan font-size="15" dy="1.3">×</tspan><tspan dy="-1.3" font-size="12">​</tspan> 10<tspan dy="-4.2" font-size="8.4">19</tspan><tspan dy="4.2" font-size="12">​</tspan> W/cm<tspan dy="-4.2" font-size="8.4">2</tspan><tspan dy="4.2" font-size="12">​</tspan></text>
<path d="M32 247.4h21" stroke="#355bbf" stroke-width="1.05" fill="none"/>
<circle cx="42.50" cy="247.10" r="1.75" fill="#355bbf" fill-opacity="0.25" stroke="#355bbf" stroke-width="1.1"/>
<text x="60.3" y="250.6" letter-spacing="0">I=6 <tspan font-size="15" dy="1.3">×</tspan><tspan dy="-1.3" font-size="12">​</tspan> 10<tspan dy="-4.2" font-size="8.4">19</tspan><tspan dy="4.2" font-size="12">​</tspan> W/cm<tspan dy="-4.2" font-size="8.4">2</tspan><tspan dy="4.2" font-size="12">​</tspan></text>
<path d="M32 265.4h5M40 265.4h5M47.2 265.4h5.8" stroke="#0c0c0c" stroke-width="1.05" fill="none"/>
<path d="M40.25 267.00L44.75 267.00L42.50 263.10Z" fill="#0c0c0c" fill-opacity="0.3" stroke="#0c0c0c" stroke-width="0.95" stroke-linejoin="round"/>
<text x="60.3" y="268.6" letter-spacing="0">I=1.2 <tspan font-size="15" dy="1.3">×</tspan><tspan dy="-1.3" font-size="12">​</tspan> 10<tspan dy="-4.2" font-size="8.4">20</tspan><tspan dy="4.2" font-size="12">​</tspan> W/cm<tspan dy="-4.2" font-size="8.4">2</tspan><tspan dy="4.2" font-size="12">​</tspan></text>
<text x="133" y="295" text-anchor="middle">(a)</text>
</g>
<g>
<path d="M311 228.5h5M319 228.5h5M326.2 228.5h5.8" stroke="#ed1c24" stroke-width="1.05" fill="none"/>
<path d="M319.25 227.90L323.75 227.90L321.50 231.80Z" fill="#ed1c24" fill-opacity="0.3" stroke="#ed1c24" stroke-width="0.95" stroke-linejoin="round"/>
<text x="339.3" y="232.5" letter-spacing="0">n<tspan dy="2.6" font-size="8.4">e</tspan><tspan dy="-2.6" font-size="12">​</tspan>=6 <tspan font-size="15" dy="1.3">×</tspan><tspan dy="-1.3" font-size="12">​</tspan> 10<tspan dy="-4.2" font-size="8.4">17</tspan><tspan dy="4.2" font-size="12">​</tspan> cm<tspan dy="-4.2" font-size="8.4">-3</tspan><tspan dy="4.2" font-size="12">​</tspan></text>
<path d="M311 247.4h21" stroke="#355bbf" stroke-width="1.05" fill="none"/>
<circle cx="321.50" cy="247.10" r="1.75" fill="#355bbf" fill-opacity="0.25" stroke="#355bbf" stroke-width="1.1"/>
<text x="339.3" y="250.6" letter-spacing="0">n<tspan dy="2.6" font-size="8.4">e</tspan><tspan dy="-2.6" font-size="12">​</tspan>=1.2 <tspan font-size="15" dy="1.3">×</tspan><tspan dy="-1.3" font-size="12">​</tspan> 10<tspan dy="-4.2" font-size="8.4">18</tspan><tspan dy="4.2" font-size="12">​</tspan> cm<tspan dy="-4.2" font-size="8.4">-3</tspan><tspan dy="4.2" font-size="12">​</tspan></text>
<path d="M311 265.4h5M319 265.4h5M326.2 265.4h5.8" stroke="#0c0c0c" stroke-width="1.05" fill="none"/>
<path d="M319.25 267.00L323.75 267.00L321.50 263.10Z" fill="#0c0c0c" fill-opacity="0.3" stroke="#0c0c0c" stroke-width="0.95" stroke-linejoin="round"/>
<text x="339.3" y="268.6" letter-spacing="0">n<tspan dy="2.6" font-size="8.4">e</tspan><tspan dy="-2.6" font-size="12">​</tspan>=2.4 <tspan font-size="15" dy="1.3">×</tspan><tspan dy="-1.3" font-size="12">​</tspan> 10<tspan dy="-4.2" font-size="8.4">18</tspan><tspan dy="4.2" font-size="12">​</tspan> cm<tspan dy="-4.2" font-size="8.4">-3</tspan><tspan dy="4.2" font-size="12">​</tspan></text>
<text x="412.5" y="295" text-anchor="middle">(b)</text>
</g>
<g>
<path d="M31 550.4h5M39 550.4h5M46.2 550.4h5.8" stroke="#ed1c24" stroke-width="1.05" fill="none"/>
<path d="M39.25 549.80L43.75 549.80L41.50 553.70Z" fill="#ed1c24" fill-opacity="0.3" stroke="#ed1c24" stroke-width="0.95" stroke-linejoin="round"/>
<text x="59.3" y="553.8" letter-spacing="0">w<tspan dy="2.6" font-size="8.4">0</tspan><tspan dy="-2.6" font-size="12">​</tspan>=5 <tspan font-style="italic">μ</tspan>m</text>
<path d="M31 568.4h21" stroke="#355bbf" stroke-width="1.05" fill="none"/>
<circle cx="41.50" cy="568.10" r="1.75" fill="#355bbf" fill-opacity="0.25" stroke="#355bbf" stroke-width="1.1"/>
<text x="59.3" y="571.9" letter-spacing="0">w<tspan dy="2.6" font-size="8.4">0</tspan><tspan dy="-2.6" font-size="12">​</tspan>=10 <tspan font-style="italic">μ</tspan>m</text>
<path d="M31 587.4h5M39 587.4h5M46.2 587.4h5.8" stroke="#0c0c0c" stroke-width="1.05" fill="none"/>
<path d="M39.25 589.00L43.75 589.00L41.50 585.10Z" fill="#0c0c0c" fill-opacity="0.3" stroke="#0c0c0c" stroke-width="0.95" stroke-linejoin="round"/>
<text x="59.3" y="590.3" letter-spacing="0">w<tspan dy="2.6" font-size="8.4">0</tspan><tspan dy="-2.6" font-size="12">​</tspan>=20 <tspan font-style="italic">μ</tspan>m</text>
<text x="133" y="614.3" text-anchor="middle">(c)</text>
</g>
<g>
<path d="M311 550.4h21" stroke="#355bbf" stroke-width="1.05" fill="none"/>
<circle cx="321.50" cy="550.10" r="1.75" fill="#355bbf" fill-opacity="0.25" stroke="#355bbf" stroke-width="1.1"/>
<text transform="translate(339.3 553.8) scale(0.95 1)">L=0</text>
<path d="M311 568.4h5M319 568.4h5M326.2 568.4h5.8" stroke="#ed1c24" stroke-width="1.05" fill="none"/>
<path d="M319.25 567.80L323.75 567.80L321.50 571.70Z" fill="#ed1c24" fill-opacity="0.3" stroke="#ed1c24" stroke-width="0.95" stroke-linejoin="round"/>
<text transform="translate(339.3 571.9) scale(0.95 1)">L=10 <tspan dx="0.8" font-style="italic">μ</tspan><tspan dx="0.5">m</tspan></text>
<path d="M311 586.6h5M319 586.6h5M326.2 586.6h5.8" stroke="#0c0c0c" stroke-width="1.05" fill="none"/>
<path d="M319.25 588.20L323.75 588.20L321.50 584.30Z" fill="#0c0c0c" fill-opacity="0.3" stroke="#0c0c0c" stroke-width="0.95" stroke-linejoin="round"/>
<text transform="translate(339.3 590.0) scale(0.95 1)">L=20 <tspan dx="0.8" font-style="italic">μ</tspan><tspan dx="0.5">m</tspan></text>
<text x="412.8" y="614.2" text-anchor="middle">(d)</text>
</g>
</svg>
</body></html>
